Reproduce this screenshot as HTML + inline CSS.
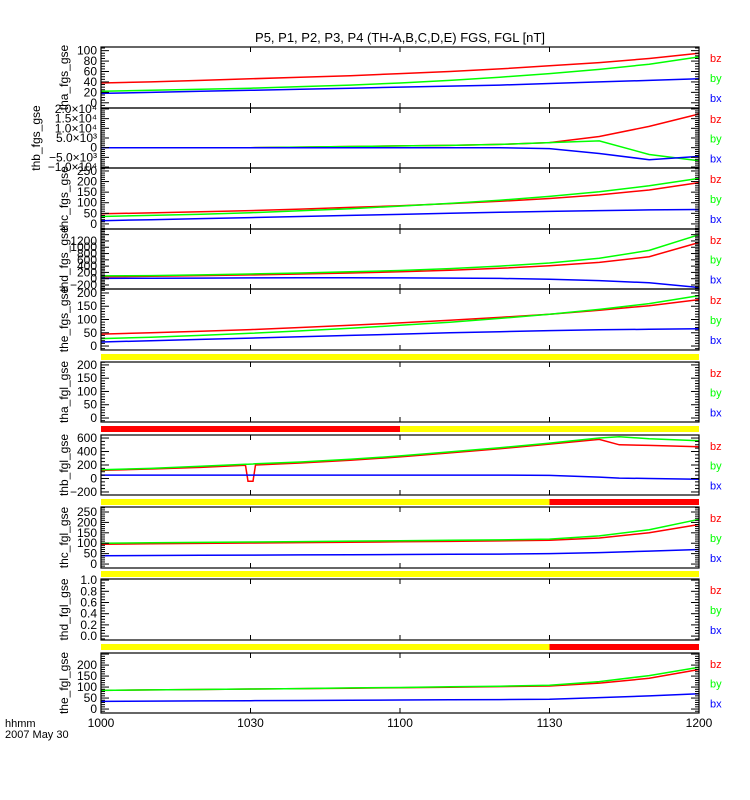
<!DOCTYPE html>
<html><head><meta charset="utf-8"><style>
body{margin:0;background:#fff;}
svg{display:block;font-family:"Liberation Sans",sans-serif;}
</style></head><body>
<svg id="c" width="750" height="800">
<rect width="750" height="800" fill="#fff"/>
<text x="400" y="42" font-size="13" text-anchor="middle">P5, P1, P2, P3, P4 (TH-A,B,C,D,E) FGS, FGL [nT]</text>
<text x="5" y="727" font-size="11">hhmm</text>
<text x="5" y="738" font-size="11">2007 May 30</text>
</svg>
<script>
const xTickLabels=["1000","1030","1100","1130","1200"];
const xTickMins=[0,30,60,90,120];
const t13=[0,10,20,30,40,50,60,70,80,90,100,110,120];
const t7=[0,10,20,29,29.5,30.5,31,40,50,60,70,80,90,100,104,110,120];
const p1bz=[38,40,43,46,49,52,56,60,65,71,77,85,95];
const p1by=[22,24,26,28,31,34,38,43,49,56,64,74,88];
const p1bx=[18,20,22,24,26,28,30,32,34,37,40,43,46];
const p2bz=[0,0,0,0,300,600,900,1200,1700,2600,5800,11000,17400];
const p2by=[0,0,0,0,300,600,900,1200,1700,2600,3500,-3500,-6800];
const p2bx=[0,0,0,0,0,0,0,0,0,-500,-3000,-6200,-4500];
const p3bz=[48,52,57,63,70,78,86,96,107,120,137,160,195];
const p3by=[35,40,46,53,62,72,84,97,112,130,152,180,215];
const p3bx=[15,20,25,30,35,40,45,50,55,59,63,66,68];
const p4bz=[60,80,100,120,150,180,220,270,330,410,520,700,1150];
const p4by=[90,100,120,150,180,220,260,320,400,500,650,900,1400];
const p4bx=[10,15,20,25,30,30,25,20,10,-20,-60,-130,-280];
const p5bz=[45,50,56,62,70,78,87,97,108,120,135,152,175];
const p5by=[28,33,40,48,57,67,78,90,104,120,138,160,190];
const p5bx=[15,20,25,30,35,40,45,50,54,58,61,63,65];
const p7bz=[120,140,165,195,-40,-40,200,230,270,320,380,440,510,580,500,490,470];
const p7by=[130,150,180,210,210,215,220,245,285,335,395,455,525,600,620,590,560];
const p7bx=[50,50,50,50,50,50,50,50,50,50,50,50,45,20,5,0,-10];
const p8bz=[95,97,99,101,103,105,107,109,111,114,125,150,190];
const p8by=[100,102,104,106,108,110,112,114,116,120,135,165,215];
const p8bx=[40,41,42,43,44,45,46,47,48,50,55,62,70];
const p10bz=[85,87,89,91,93,95,97,99,102,105,118,140,180];
const p10by=[85,87,89,91,93,96,98,101,104,108,125,152,190];
const p10bx=[35,36,37,38,39,40,41,42,43,45,52,60,70];
const barSegs=[[357,[[0,120,"#ffff00"]]],[429,[[0,60,"#ff0000"],[60,120,"#ffff00"]]],[502,[[0,90,"#ffff00"],[90,120,"#ff0000"]]],[574,[[0,120,"#ffff00"]]],[647,[[0,90,"#ffff00"],[90,120,"#ff0000"]]]];

const X0=101,X1=699;
const xs=m=>X0+(X1-X0)*m/120;
const NS="http://www.w3.org/2000/svg";
const svg=document.getElementById('c');
function mk(tag,attrs){const e=document.createElementNS(NS,tag);for(const k in attrs)e.setAttribute(k,attrs[k]);svg.appendChild(e);return e;}

const panels=[
{name:"tha_fgs_gse",top:47,bot:108,min:-10,max:107,ticks:[0,20,40,60,80,100],lab:["0","20","40","60","80","100"],minor:4,t:t13,s:[p1bz,p1by,p1bx],lx:68},
{name:"thb_fgs_gse",top:108,bot:168,min:-10500,max:20500,ticks:[-10000,-5000,0,5000,10000,15000,20000],lab:["−1.0×10⁴","−5.0×10³","0","5.0×10³","1.0×10⁴","1.5×10⁴","2.0×10⁴"],minor:5,t:t13,s:[p2bz,p2by,p2bx],lx:40},
{name:"thc_fgs_gse",top:168,bot:229,min:-24,max:264,ticks:[0,50,100,150,200,250],lab:["0","50","100","150","200","250"],minor:5,t:t13,s:[p3bz,p3by,p3bx],lx:68},
{name:"thd_fgs_gse",top:229,bot:289,min:-327,max:1580,ticks:[-200,0,200,400,600,800,1000,1200],lab:["−200","0","200","400","600","800","1000","1200"],minor:4,t:t13,s:[p4bz,p4by,p4bx],lx:68},
{name:"the_fgs_gse",top:289,bot:350,min:-15,max:215,ticks:[0,50,100,150,200],lab:["0","50","100","150","200"],minor:5,t:t13,s:[p5bz,p5by,p5bx],lx:68},
{name:"tha_fgl_gse",top:362,bot:422,min:-15,max:211,ticks:[0,50,100,150,200],lab:["0","50","100","150","200"],minor:5,t:t13,s:[],lx:68},
{name:"thb_fgl_gse",top:435,bot:495,min:-245,max:645,ticks:[-200,0,200,400,600],lab:["−200","0","200","400","600"],minor:4,t:t7,s:[p7bz,p7by,p7bx],lx:68},
{name:"thc_fgl_gse",top:507,bot:568,min:-19,max:274,ticks:[0,50,100,150,200,250],lab:["0","50","100","150","200","250"],minor:5,t:t13,s:[p8bz,p8by,p8bx],lx:68},
{name:"thd_fgl_gse",top:579,bot:640,min:-0.07,max:1.02,ticks:[0,0.2,0.4,0.6,0.8,1.0],lab:["0.0","0.2","0.4","0.6","0.8","1.0"],minor:4,t:t13,s:[],lx:68},
{name:"the_fgl_gse",top:653,bot:713,min:-18,max:255,ticks:[0,50,100,150,200],lab:["0","50","100","150","200"],minor:5,t:t13,s:[p10bz,p10by,p10bx],lx:68}
];
const colors=["#ff0000","#00ff00","#0000ff"];
const comps=["bz","by","bx"];

barSegs.forEach(([y,segs],bi)=>{
  segs.forEach(([a,b,c])=>{
    const r=mk('rect',{x:xs(a),y:y-3,width:xs(b)-xs(a),height:6,fill:c});
    
    
  });
});

panels.forEach((p,pi)=>{
  const ys=v=>p.bot-(v-p.min)/(p.max-p.min)*(p.bot-p.top);
  const g=mk('g',{});
  
  
  p.s.forEach((arr,si)=>{
    const pts=arr.map((v,i)=>xs(p.t[i]).toFixed(1)+","+ys(v).toFixed(1)).join(" ");
    const l=mk('polyline',{points:pts,fill:"none",stroke:colors[si],"stroke-width":1.5});
    
    
  });
  const fr=mk('rect',{x:X0,y:p.top,width:X1-X0,height:p.bot-p.top,fill:"none",stroke:"#000","stroke-width":1.2});
  
  
  // y ticks
  const step=p.ticks[1]-p.ticks[0];
  for(let i=-p.minor;i<=p.ticks.length*p.minor+p.minor;i++){
    const v=p.ticks[0]+i*step/p.minor;
    if(v<p.min||v>p.max)continue;
    const y=ys(v),len=(i%p.minor===0)?8:4;
    mk('line',{x1:X0,x2:X0+len,y1:y,y2:y,stroke:"#000"});
    mk('line',{x1:X1-len,x2:X1,y1:y,y2:y,stroke:"#000"});
  }
  p.ticks.forEach((v,i)=>{
    const t=mk('text',{x:X0-4,y:ys(v)+4,"font-size":12,"text-anchor":"end"});
    t.textContent=p.lab[i];
    
    
  });
  xTickMins.forEach(m=>{
    mk('line',{x1:xs(m),x2:xs(m),y1:p.top,y2:p.top+5,stroke:"#000"});
    mk('line',{x1:xs(m),x2:xs(m),y1:p.bot-5,y2:p.bot,stroke:"#000"});
  });
  const cy=(p.top+p.bot)/2;
  const yl=mk('text',{x:p.lx,y:cy,"font-size":12,"text-anchor":"middle",transform:`rotate(-90 ${p.lx} ${cy})`});
  yl.textContent=p.name;
  
  
  comps.forEach((c,ci)=>{
    const h=p.bot-p.top;
    const t=mk('text',{x:710,y:p.top+h*(0.18+ci*0.33)+4,"font-size":11,fill:colors[ci]});
    t.textContent=c;
    
    
  });
});
xTickMins.forEach((m,i)=>{
  const t=mk('text',{x:xs(m),y:727,"font-size":12,"text-anchor":"middle"});
  t.textContent=xTickLabels[i];
  
  
});
</script>
</body></html>
